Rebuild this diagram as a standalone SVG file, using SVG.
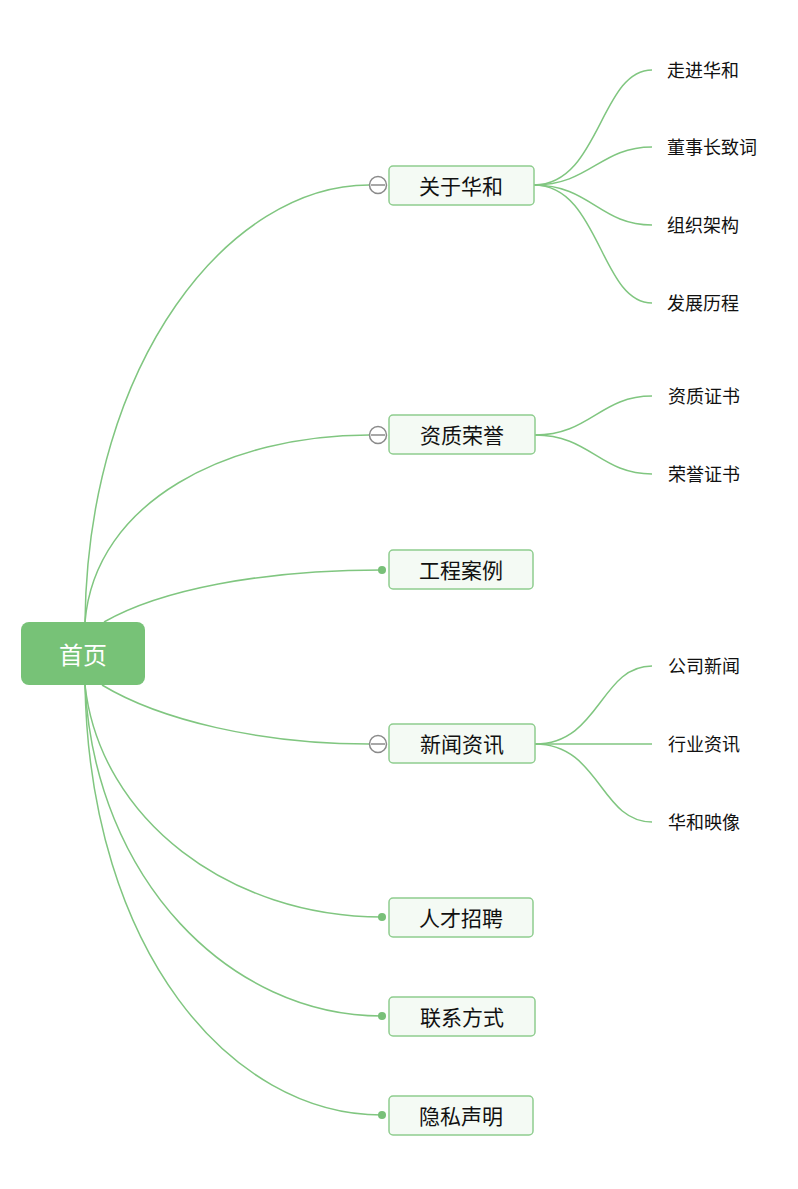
<svg xmlns="http://www.w3.org/2000/svg" width="798" height="1189" viewBox="0 0 798 1189">
<style>
.c{fill:none;stroke:#80c680;stroke-width:1.5}
.n{fill:#f4faf4;stroke:#8fcd8f;stroke-width:1.5}
.t{font-family:"Noto Sans CJK SC","Liberation Sans",sans-serif;font-size:21px;fill:#111;text-anchor:middle;dominant-baseline:central}
.l{font-family:"Noto Sans CJK SC","Liberation Sans",sans-serif;font-size:18px;fill:#111;dominant-baseline:central}
.dot{fill:#78c078}
.col{fill:#fff;stroke:#8a8a8a;stroke-width:1.5}
</style>
<rect width="798" height="1189" fill="#fff"/>
<g id="connectors">
<path class="c" d="M85,622 C88,360 230,185 369,185"/>
<path class="c" d="M85,622 C95,500 230,435 369,435"/>
<path class="c" d="M104,622 C160,590 260,570 382,570"/>
<path class="c" d="M102,685 C160,720 260,744 369,744"/>
<path class="c" d="M85,685 C100,820 230,917 382,917"/>
<path class="c" d="M85,685 C95,880 230,1016 382,1016"/>
<path class="c" d="M85,685 C90,950 230,1115 382,1115"/>
<path class="c" d="M534,185 C600,185 600,70 652,70"/>
<path class="c" d="M534,185 C590,185 600,147 652,147"/>
<path class="c" d="M534,185 C590,185 600,225 652,225"/>
<path class="c" d="M534,185 C600,185 600,303 652,303"/>
<path class="c" d="M535,435 C590,435 600,396 652,396"/>
<path class="c" d="M535,435 C590,435 600,474 652,474"/>
<path class="c" d="M535,744 C600,744 600,666 652,666"/>
<path class="c" d="M535,744 L652,744"/>
<path class="c" d="M535,744 C600,744 600,822 652,822"/>
</g>
<g id="root">
<rect x="21" y="622" width="124" height="63" rx="8" fill="#77c277"/>
<text x="83" y="653" class="t" style="fill:#fff;font-size:24px">首页</text>
</g>
<g id="n1">
<rect class="n" x="389" y="166" width="145" height="39" rx="4"/>
<text class="t" x="461" y="185">关于华和</text>
<circle class="col" cx="378" cy="185" r="8.5"/><line x1="371" y1="185" x2="385" y2="185" stroke="#8a8a8a" stroke-width="1.5"/>
</g>
<g id="n2">
<rect class="n" x="389" y="415" width="146" height="39" rx="4"/>
<text class="t" x="462" y="434">资质荣誉</text>
<circle class="col" cx="378" cy="435" r="8.5"/><line x1="371" y1="435" x2="385" y2="435" stroke="#8a8a8a" stroke-width="1.5"/>
</g>
<g id="n3">
<rect class="n" x="389" y="550" width="144" height="39" rx="4"/>
<text class="t" x="461" y="569">工程案例</text>
<circle class="dot" cx="382" cy="570" r="4"/>
</g>
<g id="n4">
<rect class="n" x="389" y="724" width="146" height="39" rx="4"/>
<text class="t" x="462" y="743">新闻资讯</text>
<circle class="col" cx="378" cy="744" r="8.5"/><line x1="371" y1="744" x2="385" y2="744" stroke="#8a8a8a" stroke-width="1.5"/>
</g>
<g id="n5">
<rect class="n" x="389" y="898" width="144" height="39" rx="4"/>
<text class="t" x="461" y="917">人才招聘</text>
<circle class="dot" cx="382" cy="917" r="4"/>
</g>
<g id="n6">
<rect class="n" x="389" y="997" width="146" height="39" rx="4"/>
<text class="t" x="462" y="1016">联系方式</text>
<circle class="dot" cx="382" cy="1016" r="4"/>
</g>
<g id="n7">
<rect class="n" x="389" y="1096" width="144" height="39" rx="4"/>
<text class="t" x="461" y="1115">隐私声明</text>
<circle class="dot" cx="382" cy="1115" r="4"/>
</g>
<g id="leaves">
<text class="l" x="667" y="69">走进华和</text>
<text class="l" x="667" y="146">董事长致词</text>
<text class="l" x="667" y="224">组织架构</text>
<text class="l" x="667" y="302">发展历程</text>
<text class="l" x="668" y="395">资质证书</text>
<text class="l" x="668" y="473">荣誉证书</text>
<text class="l" x="668" y="665">公司新闻</text>
<text class="l" x="668" y="743">行业资讯</text>
<text class="l" x="668" y="821">华和映像</text>
</g>
</svg>
